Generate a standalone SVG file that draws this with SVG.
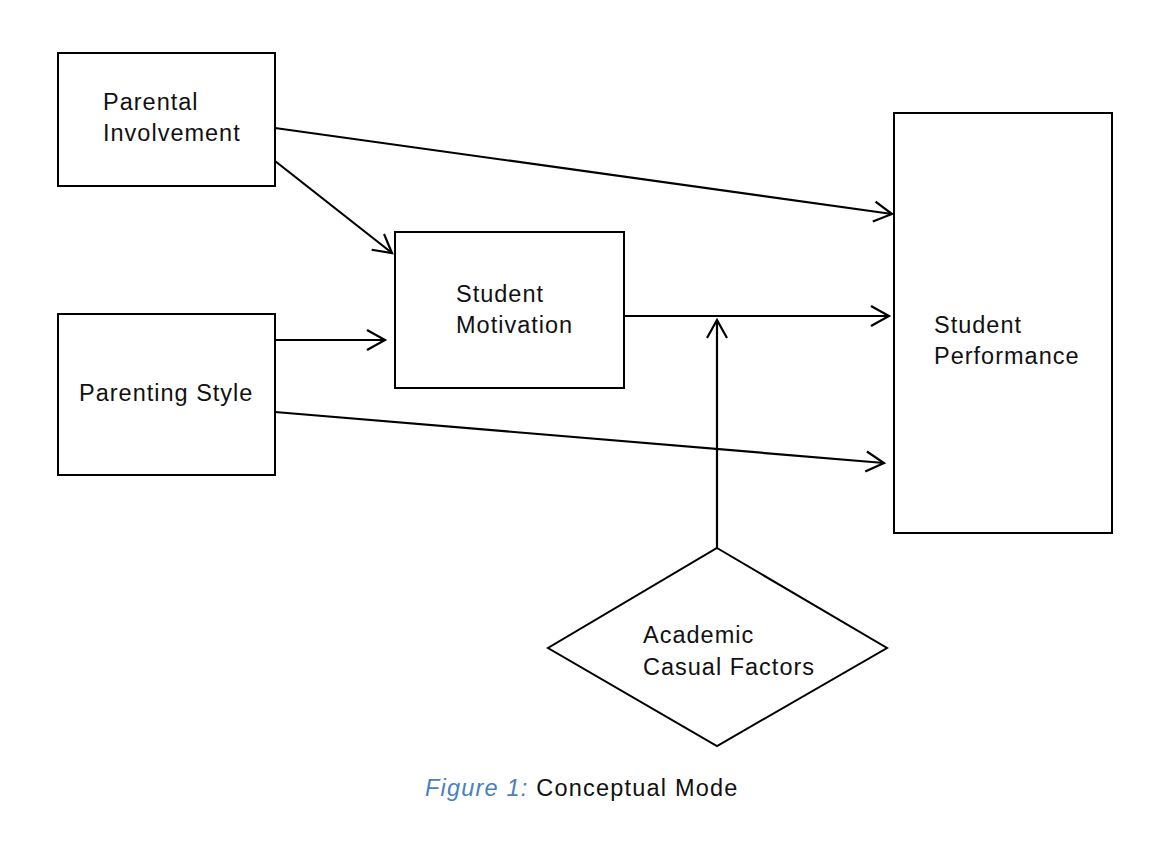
<svg xmlns="http://www.w3.org/2000/svg" width="1150" height="846" viewBox="0 0 1150 846">
<defs>
<style>
.box{fill:#fff;stroke:#000;stroke-width:2}
.lbl{font-family:"Liberation Sans",Arial,sans-serif;font-size:23.5px;fill:#111;letter-spacing:1px}
.edge{fill:none;stroke:#000;stroke-width:2.2}
.cap{font-family:"Liberation Sans",Arial,sans-serif;font-size:23.5px;letter-spacing:1.2px}
</style>
<marker id="arr" markerUnits="userSpaceOnUse" markerWidth="24" markerHeight="24" viewBox="0 0 24 24" refX="20" refY="12" orient="auto">
<path d="M2,2 L20,12 L2,22" fill="none" stroke="#000" stroke-width="2.2"/>
</marker>
</defs>
<rect width="1150" height="846" fill="#fff"/>
<g id="parental-involvement">
<rect class="box" x="58" y="53" width="217" height="133"/>
<text class="lbl" x="103" y="110">Parental</text>
<text class="lbl" x="103" y="141">Involvement</text>
</g>
<g id="parenting-style">
<rect class="box" x="58" y="314" width="217" height="161"/>
<text class="lbl" x="79" y="401">Parenting Style</text>
</g>
<g id="student-motivation">
<rect class="box" x="395" y="232" width="229" height="156"/>
<text class="lbl" x="456" y="302">Student</text>
<text class="lbl" x="456" y="333">Motivation</text>
</g>
<g id="student-performance">
<rect class="box" x="894" y="113" width="218" height="420"/>
<text class="lbl" x="934" y="333">Student</text>
<text class="lbl" x="934" y="364">Performance</text>
</g>
<g id="academic-casual-factors">
<polygon class="box" points="717,548 887,648 717,746 548,648"/>
<text class="lbl" x="643" y="643">Academic</text>
<text class="lbl" x="643" y="675">Casual Factors</text>
</g>
<g id="connectors">
<line class="edge" x1="275" y1="128" x2="892" y2="214" marker-end="url(#arr)"/>
<line class="edge" x1="275" y1="161" x2="392" y2="253" marker-end="url(#arr)"/>
<line class="edge" x1="275" y1="340" x2="385" y2="340" marker-end="url(#arr)"/>
<line class="edge" x1="275" y1="412" x2="884" y2="463" marker-end="url(#arr)"/>
<line class="edge" x1="624" y1="316" x2="889" y2="316" marker-end="url(#arr)"/>
<line class="edge" x1="717" y1="548" x2="717" y2="320" marker-end="url(#arr)"/>
</g>
<text class="cap" x="425" y="796"><tspan fill="#4a80c0" font-style="italic">Figure 1:</tspan><tspan fill="#111"> Conceptual Mode</tspan></text>
</svg>
